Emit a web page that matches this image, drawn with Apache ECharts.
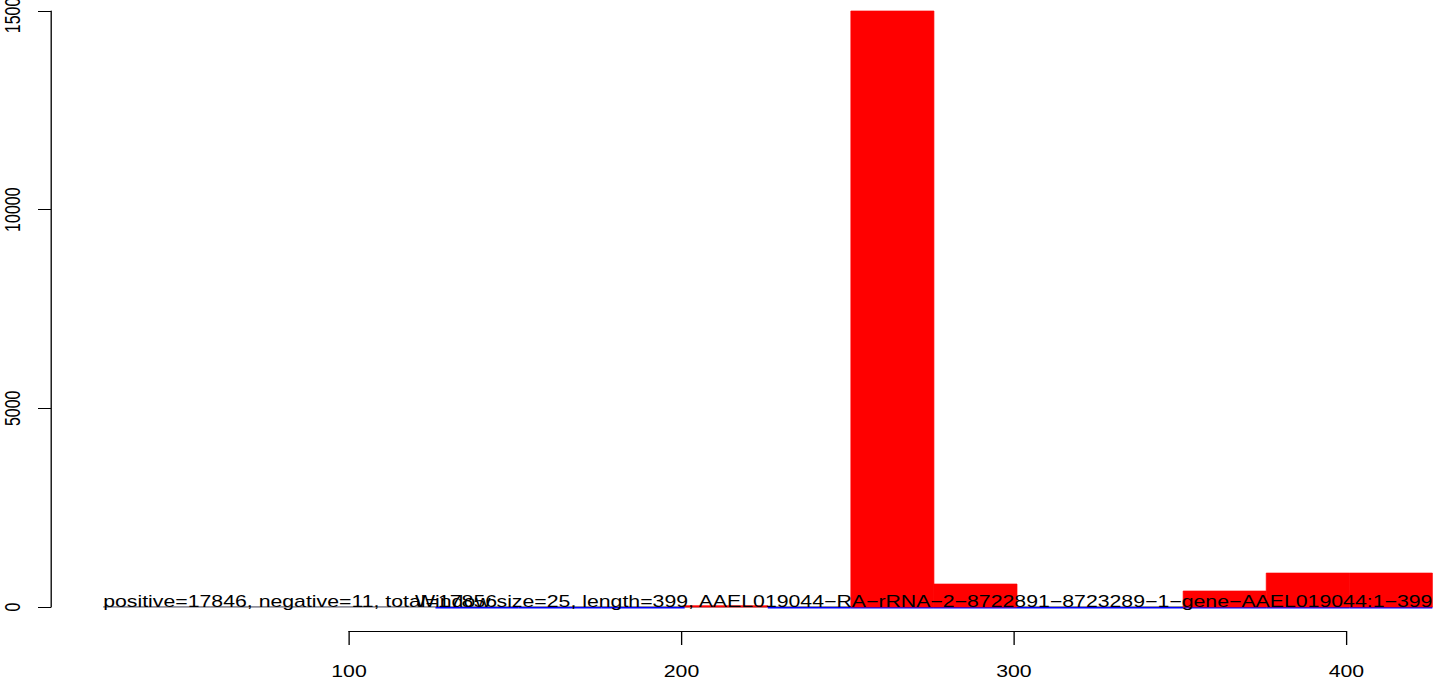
<!DOCTYPE html>
<html><head><meta charset="utf-8">
<script src="https://cdn.jsdelivr.net/npm/echarts@6/dist/echarts.min.js"></script>
<style>
html,body{margin:0;padding:0;background:#fff;overflow:hidden}
#wrap{width:1444px;height:683px;overflow:hidden;position:relative}
#c{height:683px;transform-origin:0 0;position:absolute;left:0;top:0}
</style>
</head><body><div id="wrap"><div id="c"></div></div>
<script>
// ---- data ----
const windowSize = 25;
const windowStarts = [26, 51, 76, 101, 126, 151, 176, 201, 226, 251, 276, 301, 326, 351, 376, 401];
const positiveCounts = [0, 0, 0, 0, 0, 0, 0, 30, 0, 15000, 578, 0, 0, 402, 854, 854];
const negativeCounts = [0, 0, 0, 0, -1, -1, -1, 0, -1, -1, -1, -1, -1, -1, -1, -1];
const yTicks = [0, 5000, 10000, 15000];
const xTicks = [100, 200, 300, 400];
const summaryText = "positive=17846, negative=11, total=17856";
const titleText = "Window size=25, length=399, AAEL019044\u2212RA\u2212rRNA\u22122\u22128722891\u22128723289\u22121\u2212gene\u2212AAEL019044:1\u2212399";

// the reference image is horizontally stretched; render narrower and stretch
const SX = 1.33;
const W = 1444, H = 683;
const el = document.getElementById('c');
el.style.width = (W / SX) + 'px';
el.style.transform = 'scaleX(' + SX + ')';
const px = v => v / SX;   // horizontal screen px -> container px

const FONT = '"Liberation Sans", Arial, Helvetica, sans-serif';
const xStart = windowStarts[0];
const xEnd = windowStarts[windowStarts.length - 1] + windowSize;

const posData = windowStarts.map((s, i) => [s, positiveCounts[i]]);
const negData = windowStarts.map((s, i) => [s, negativeCounts[i]]);

function barItem(color, minH, below, strokeW) {
  return function (params, api) {
    const s = api.value(0), v = api.value(1);
    if (v === 0) return null;
    const p0 = api.coord([s, 0]);
    const p1 = api.coord([s + windowSize, v]);
    let h = Math.abs(p1[1] - p0[1]);
    let y = Math.min(p0[1], p1[1]);
    if (h < minH) { h = minH; y = below ? p0[1] : p0[1] - minH; }
    return { type: 'rect', shape: { x: p0[0], y: y, width: p1[0] - p0[0], height: h },
             style: { fill: color, stroke: strokeW ? color : null, lineWidth: strokeW || 0 } };
  };
}

const chart = echarts.init(el, null, { renderer: 'svg' });
chart.setOption({
  animation: false,
  backgroundColor: '#ffffff',
  grid: [
    { left: px(51), right: px(12), top: 11, bottom: 76, containLabel: false, outerBoundsMode: 'none' },
    { left: px(349), right: px(98), top: 11, bottom: 76, containLabel: false, outerBoundsMode: 'none' }
  ],
  xAxis: [
    { gridIndex: 0, type: 'value', min: 10.3, max: xEnd, show: false },
    { gridIndex: 1, type: 'value', min: xTicks[0], max: xTicks[xTicks.length - 1], interval: 100,
      offset: 24,
      axisLine: { show: true, onZero: false, lineStyle: { color: '#000', width: 1 } },
      axisTick: { show: true, length: 14, lineStyle: { color: '#000', width: 1 } },
      axisLabel: { color: '#000', fontSize: 16, fontFamily: FONT, margin: 32,
                   showMinLabel: true, showMaxLabel: true },
      splitLine: { show: false } }
  ],
  yAxis: [
    { gridIndex: 0, type: 'value', min: yTicks[0], max: yTicks[yTicks.length - 1], interval: 5000,
      axisLine: { show: true, onZero: false, lineStyle: { color: '#000', width: 1 } },
      axisTick: { show: true, length: px(13), lineStyle: { color: '#000', width: 1 } },
      axisLabel: { color: '#000', fontSize: 16, fontFamily: FONT, rotate: 90, margin: px(28),
                   formatter: v => String(v), showMinLabel: true, showMaxLabel: true },
      splitLine: { show: false } },
    { gridIndex: 1, type: 'value', min: 0, max: 15000, show: false }
  ],
  series: [
    { type: 'line', xAxisIndex: 0, yAxisIndex: 0, z: 1, symbol: 'none',
      data: [[xStart, 0], [xEnd, 0]], lineStyle: { color: '#6a6a7a', width: 1.3 }, silent: true },
    { type: 'custom', xAxisIndex: 0, yAxisIndex: 0, z: 2, data: negData,
      renderItem: barItem('#0000ff', 1.5, true, 0) },
    { type: 'custom', xAxisIndex: 0, yAxisIndex: 0, z: 3, data: posData,
      renderItem: barItem('#ff0000', 1.3, false, 0.6) },
    { type: 'custom', xAxisIndex: 0, yAxisIndex: 0, z: 4,
      data: [[xStart, 0, 0], [xEnd, 0, 1]],
      renderItem: function (params, api) {
        const p = api.coord([api.value(0), api.value(1)]);
        const idx = api.value(2);
        return { type: 'text', x: p[0], y: p[1] + 2,
          style: { text: idx === 0 ? summaryText : titleText,
                   textAlign: idx === 0 ? 'left' : 'right', textVerticalAlign: 'bottom',
                   fill: '#000', font: '16px ' + FONT } };
      } }
  ]
});
</script>
</body></html>
